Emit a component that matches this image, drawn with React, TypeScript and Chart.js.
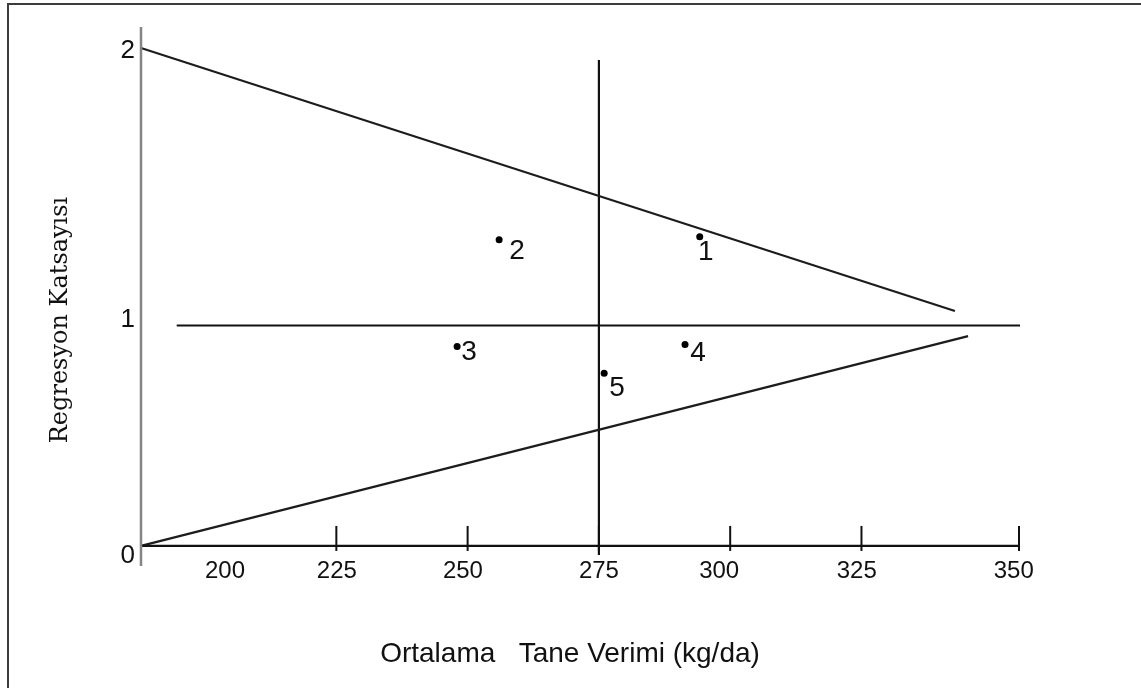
import React, { useEffect, useRef } from 'react';
import { Chart, registerables } from 'chart.js';

Chart.register(...registerables);

// Genotype points
const pointNames = ['1', '2', '3', '4', '5'];
const yieldValues = [294.2, 256.0, 248.0, 291.4, 276.0];
const regressionCoefs = [1.403, 1.389, 0.905, 0.914, 0.783];

// Reference lines (value space)
const upperLineX = [187.8, 342.8];
const upperLineY = [2.259, 1.066];
const lowerLineX = [187.8, 345.3];
const lowerLineY = [0, 0.952];
const meanLineX = [194.6, 355.2];
const meanLineY = [1, 1];
const avgYieldLineX = [275, 275];
const avgYieldLineY = [-0.041, 2.204];
const yAxisLineX = [187.8, 187.8];
const yAxisLineY = [-0.091, 2.354];
const xAxisLineX = [187.8, 355];
const xAxisLineY = [0, 0];

// Ticks
const xTickMarks = [225, 250, 275, 300, 325, 355];
const xTickLabels = ['200', '225', '250', '275', '300', '325', '350'];
const xTickLabelAt = [203.8, 225.1, 249.1, 275, 297.9, 324.1, 354.0];
const yTickLabels = ['0', '1', '2'];
const yTickLabelAt = [-0.046, 1.025, 2.245];

const xTitle = 'Ortalama   Tane Verimi (kg/da)';
const yTitle = 'Regresyon Katsayısı';

// label offsets (px) for point numbers
const pointLabelOffsets = [[6, 16], [18, 12], [12, 6], [13, 9], [13, 15]];

const toXY = (xs: number[], ys: number[]) => xs.map((v, i) => ({ x: v, y: ys[i] }));

const lineDs = (xs: number[], ys: number[], color: string, width: number) => ({
  type: 'scatter' as const,
  data: toXY(xs, ys),
  showLine: true,
  borderColor: color,
  borderWidth: width,
  pointRadius: 0,
  pointHoverRadius: 0,
  tension: 0,
  clip: false as any,
});

const overlay = {
  id: 'overlay',
  afterDatasetsDraw(chart: any) {
    const { ctx, scales } = chart;
    const xs = scales.x;
    const ys = scales.y;
    ctx.save();
    // frame (top & left)
    ctx.strokeStyle = '#3c3c3c';
    ctx.lineWidth = 2;
    ctx.beginPath();
    ctx.moveTo(8, 688);
    ctx.lineTo(8, 4);
    ctx.lineTo(1141, 4);
    ctx.stroke();

    const y0 = ys.getPixelForValue(0);
    // tick marks
    ctx.strokeStyle = '#111';
    ctx.lineWidth = 2;
    xTickMarks.forEach((v) => {
      const px = xs.getPixelForValue(v);
      ctx.beginPath();
      ctx.moveTo(px, y0 - 20);
      ctx.lineTo(px, y0 + 5);
      ctx.stroke();
    });

    ctx.fillStyle = '#111';
    // x tick labels
    ctx.font = '24px "Liberation Sans", Arial, sans-serif';
    ctx.textAlign = 'center';
    ctx.textBaseline = 'middle';
    xTickLabels.forEach((t, i) => {
      ctx.fillText(t, xs.getPixelForValue(xTickLabelAt[i]), y0 + 25);
    });

    // y tick labels
    const axisPx = xs.getPixelForValue(yAxisLineX[0]);
    ctx.font = '26px "Liberation Sans", Arial, sans-serif';
    ctx.textAlign = 'right';
    yTickLabels.forEach((t, i) => {
      ctx.fillText(t, axisPx - 6, ys.getPixelForValue(yTickLabelAt[i]));
    });

    // point labels
    ctx.font = '28px "Liberation Sans", Arial, sans-serif';
    ctx.textAlign = 'center';
    pointNames.forEach((n, i) => {
      const px = xs.getPixelForValue(yieldValues[i]);
      const py = ys.getPixelForValue(regressionCoefs[i]);
      ctx.fillText(n, px + pointLabelOffsets[i][0], py + pointLabelOffsets[i][1]);
    });

    // x title
    ctx.font = '28px "Liberation Sans", Arial, sans-serif';
    ctx.fillText(xTitle, 570, 654);

    // y title
    ctx.save();
    ctx.translate(61, 320);
    ctx.rotate(-Math.PI / 2);
    ctx.font = '24px "DejaVu Serif", serif';
    ctx.fillText(yTitle, 0, 0);
    ctx.restore();

    ctx.restore();
  },
};

export default function App() {
  const ref = useRef<HTMLCanvasElement | null>(null);
  useEffect(() => {
    if (!ref.current) return;
    const chart = new Chart(ref.current, {
      type: 'scatter',
      data: {
        datasets: [
          lineDs(yAxisLineX, yAxisLineY, '#858585', 2.5),
          lineDs(xAxisLineX, xAxisLineY, '#111', 2.2),
          lineDs(upperLineX, upperLineY, '#1c1c1c', 2.2),
          lineDs(lowerLineX, lowerLineY, '#1c1c1c', 2.2),
          lineDs(meanLineX, meanLineY, '#111', 2.2),
          lineDs(avgYieldLineX, avgYieldLineY, '#111', 2.2),
          {
            type: 'scatter',
            data: toXY(yieldValues, regressionCoefs),
            pointRadius: 3.5,
            pointBackgroundColor: '#000',
            pointBorderWidth: 0,
            borderWidth: 0,
            clip: false as any,
          },
        ],
      },
      options: {
        responsive: false,
        animation: false,
        devicePixelRatio: 1,
        layout: { padding: { left: 141, right: 122, top: 27, bottom: 122 } },
        plugins: { legend: { display: false }, tooltip: { enabled: false } },
        events: [],
        scales: {
          x: { type: 'linear', display: false, min: 187.8, max: 355, bounds: 'data' },
          y: { type: 'linear', display: false, min: -0.091, max: 2.354, bounds: 'data' },
        },
      } as any,
      plugins: [overlay],
    });
    return () => chart.destroy();
  }, []);
  return (
    <div style={{ position: 'absolute', left: 0, top: 0, width: 1141, height: 688, background: '#fff' }}>
      <canvas ref={ref} width={1141} height={688} style={{ display: 'block', width: 1141, height: 688 }} />
    </div>
  );
}
